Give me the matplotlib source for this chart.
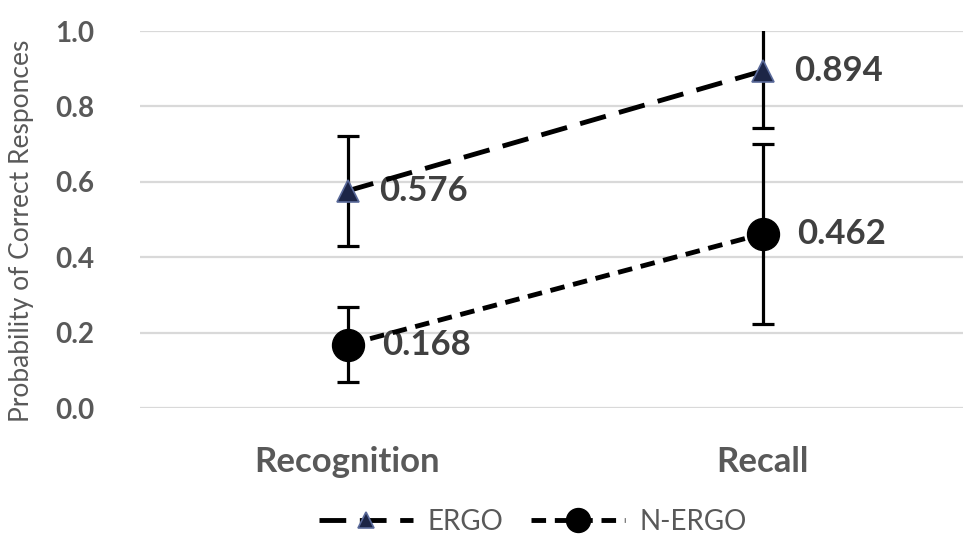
import numpy as np
import matplotlib.pyplot as plt

plt.rcParams['font.family'] = ['Lato', 'DejaVu Sans']

categories = ['Recognition', 'Recall']
ergo = [0.576, 0.894]
ergo_err = [0.145, 0.15]
nergo = [0.168, 0.462]
nergo_err = [0.10, 0.238]

fig = plt.figure(figsize=(9.63, 5.54), dpi=100)
ax = fig.add_axes([0.1454, 0.2635, 0.862, 0.6805])

x = np.arange(len(categories))

# error bars
ax.errorbar(x, ergo, yerr=ergo_err, fmt='none', ecolor='black', elinewidth=2.3,
            capsize=8, capthick=2.3, zorder=3)
ax.errorbar(x, nergo, yerr=nergo_err, fmt='none', ecolor='black', elinewidth=2.3,
            capsize=8, capthick=2.3, zorder=3)

ax.plot(x, ergo, color='black', lw=3.5, dashes=(5.5, 2.8), marker='^', markersize=16,
        markerfacecolor='#1c2546', markeredgecolor='#5a6a9a', markeredgewidth=1.2,
        label='ERGO', zorder=4)
ax.plot(x, nergo, color='black', lw=3.5, dashes=(3, 1.8), marker='o', markersize=23,
        markerfacecolor='black', markeredgecolor='black', label='N-ERGO', zorder=4)

for xi, v in zip(x, ergo):
    ax.annotate('%.3f' % v, (xi, v), xytext=(23, 0), textcoords='offset points',
                va='center', ha='left', fontsize=25, fontweight='bold', color='#404040')
for xi, v in zip(x, nergo):
    ax.annotate('%.3f' % v, (xi, v), xytext=(25, 0), textcoords='offset points',
                va='center', ha='left', fontsize=25, fontweight='bold', color='#404040')

ax.set_xlim(-0.5, 1.5)
ax.set_ylim(0, 1.0)
ax.set_yticks(np.arange(0, 1.01, 0.2))
ax.set_yticklabels(['%.1f' % t for t in np.arange(0, 1.01, 0.2)])
ax.set_xticks(x)
ax.set_xticklabels(categories)
ax.tick_params(axis='y', length=0, pad=33, labelsize=20, labelcolor='#595959')
ax.tick_params(axis='x', length=0, pad=27, labelsize=25, labelcolor='#595959')
for lab in ax.get_xticklabels() + ax.get_yticklabels():
    lab.set_fontweight('bold')

ax.grid(axis='y', color='#d9d9d9', lw=1.6)
ax.set_axisbelow(True)
for s in ax.spines.values():
    s.set_visible(False)

ax.set_ylabel('Probability of Correct Responces', fontsize=19, color='#595959')
ax.yaxis.set_label_coords(-0.128, 0.47)

leg = fig.legend(loc='center', bbox_to_anchor=(0.553, 0.058), ncol=2, frameon=False,
                 fontsize=20, handlelength=3.4, columnspacing=1.0, handletextpad=0.5,
                 markerscale=0.75)
for t in leg.get_texts():
    t.set_color('#595959')

fig.savefig('out.png', dpi=100)
